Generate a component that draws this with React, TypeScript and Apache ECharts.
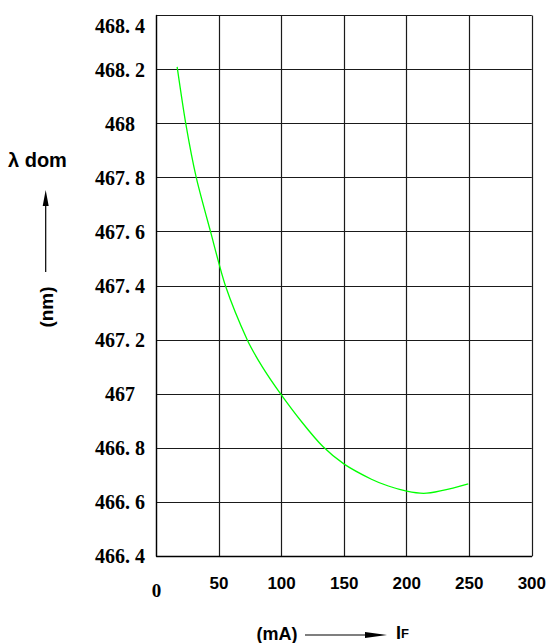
import React, { useEffect, useRef } from "react";
import * as echarts from "echarts";

// Forward current IF (mA) and dominant wavelength λdom (nm)
const currentMA = [16.5, 23.4, 31.8, 43.2, 55.1, 72.5, 84.6, 99.2, 116.3, 133, 150, 171.8, 185.3, 200, 213.5, 249.2];
const lambdaDom = [468.21, 468.0, 467.8, 467.6, 467.4, 467.2, 467.1, 467.0, 466.895, 466.805, 466.74, 466.684, 466.659, 466.64, 466.632, 466.667];

const xTicks = [0, 50, 100, 150, 200, 250, 300];
const yTicks = [466.4, 466.6, 466.8, 467.0, 467.2, 467.4, 467.6, 467.8, 468.0, 468.2, 468.4];

const SERIF = "'Liberation Serif', 'DejaVu Serif', serif";
const SANS = "'Liberation Sans', Arial, sans-serif";

function formatY(v: number): string {
  const s = String(Math.round(v * 10) / 10);
  return s.replace(".", ". ");
}

export default function App() {
  const ref = useRef<HTMLDivElement>(null);

  useEffect(() => {
    if (!ref.current) return;
    const chart = echarts.init(ref.current, undefined, { renderer: "svg" });
    const yStep = Math.round((yTicks[1] - yTicks[0]) * 10) / 10;

    chart.setOption({
      animation: false,
      backgroundColor: "#ffffff",
      grid: { left: 156.5, top: 15.5, right: 14, bottom: 87 },
      xAxis: {
        type: "value",
        min: xTicks[0],
        max: xTicks[xTicks.length - 1],
        interval: xTicks[1] - xTicks[0],
        axisLine: { show: true, lineStyle: { color: "#000", width: 1.3 } },
        axisTick: { show: false },
        splitLine: { show: true, lineStyle: { color: "#1a1a1a", width: 1.2 } },
        axisLabel: {
          margin: 19,
          formatter: (v: number) => (v === 0 ? "{z|0}" : "{s|" + v + "}"),
          rich: {
            z: { fontFamily: SERIF, fontWeight: "bold", fontSize: 19, color: "#000", padding: [6, 0, 0, 0] },
            s: { fontFamily: SANS, fontWeight: "bold", fontSize: 17, color: "#000" },
          },
        },
      },
      yAxis: {
        type: "value",
        min: yTicks[0],
        max: yTicks[yTicks.length - 1],
        interval: yStep,
        axisLine: { show: true, lineStyle: { color: "#000", width: 1.3 } },
        axisTick: { show: false },
        splitLine: { show: true, lineStyle: { color: "#1a1a1a", width: 1.2 } },
        axisLabel: {
          margin: 36.5,
          align: "center",
          verticalAlignMaxLabel: "top",
          formatter: formatY,
          fontFamily: SERIF,
          fontWeight: "bold",
          fontSize: 20,
          color: "#000",
        },
      },
      series: [
        {
          type: "line",
          data: currentMA.map((x, i) => [x, lambdaDom[i]]),
          showSymbol: false,
          smooth: 0.25,
          lineStyle: { color: "#00ff00", width: 1.3 },
        },
      ],
      graphic: [
        {
          type: "text",
          left: 8,
          top: 150,
          style: { text: "λ dom", font: `bold 20px ${SANS}`, fill: "#000" },
        },
        {
          type: "line",
          shape: { x1: 45.7, y1: 203, x2: 45.7, y2: 272 },
          style: { stroke: "#000", lineWidth: 1.2 },
        },
        {
          type: "polygon",
          shape: { points: [[45.7, 190], [42.7, 206], [48.7, 206]] },
          style: { fill: "#000" },
        },
        {
          type: "text",
          x: 46,
          y: 307,
          rotation: Math.PI / 2,
          style: {
            text: "(nm)",
            font: `bold 19px ${SANS}`,
            fill: "#000",
            align: "center",
            verticalAlign: "middle",
          },
        },
        {
          type: "text",
          x: 277,
          y: 634,
          style: {
            text: "(mA)",
            font: `bold 18px ${SANS}`,
            fill: "#000",
            align: "center",
            verticalAlign: "middle",
          },
        },
        {
          type: "line",
          shape: { x1: 305, y1: 635, x2: 368, y2: 635 },
          style: { stroke: "#000", lineWidth: 1.2 },
        },
        {
          type: "polygon",
          shape: { points: [[387, 635], [365, 632], [365, 638]] },
          style: { fill: "#000" },
        },
        {
          type: "text",
          x: 396,
          y: 642,
          style: {
            text: "{a|I}{b|F}",
            fill: "#000",
            align: "left",
            verticalAlign: "bottom",
            rich: {
              a: { font: `bold 18px ${SANS}`, fill: "#000" },
              b: { font: `bold 13px ${SANS}`, fill: "#000" },
            },
          },
        },
      ],
    });

    return () => chart.dispose();
  }, []);

  return (
    <div
      ref={ref}
      style={{ position: "fixed", left: 0, top: 0, width: 549, height: 643, background: "#fff" }}
    />
  );
}
